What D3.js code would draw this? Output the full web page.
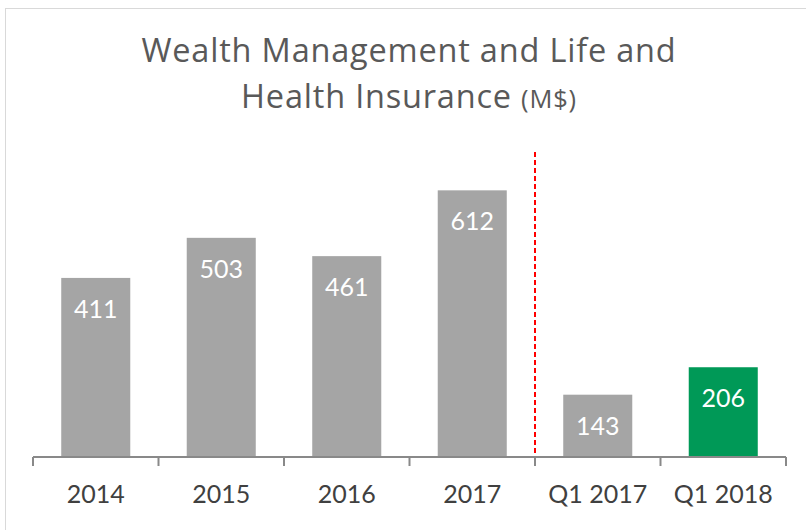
<!DOCTYPE html>
<html>
<head>
<meta charset="utf-8">
<script src="https://cdn.jsdelivr.net/npm/d3@7"></script>
<style>
  html, body { margin: 0; padding: 0; background: #fff; }
  svg { display: block; }
  text { font-family: Lato, "Open Sans", sans-serif; }
  .title text { font-family: "Open Sans", Lato, sans-serif; letter-spacing: 0.8px; }
</style>
</head>
<body>
<div id="chart"></div>
<script>
// Wealth Management and Life and Health Insurance (M$) - bar chart

// Data
const categories = ['2014', '2015', '2016', '2017', 'Q1 2017', 'Q1 2018'];
const values = [411, 503, 461, 612, 143, 206];
const barColors = ['#a5a5a5', '#a5a5a5', '#a5a5a5', '#a5a5a5', '#a5a5a5', '#009957'];
const titleLines = ['Wealth Management and Life and', 'Health Insurance'];
const titleUnit = '(M$)';
const yMax = 700;

const width = 806;
const height = 530;
const plot = { left: 33, right: 786, top: 152, bottom: 457 };

const svg = d3.select('#chart')
  .append('svg')
  .attr('width', width)
  .attr('height', height);

// chart frame
svg.append('rect')
  .attr('x', 5.5)
  .attr('y', 8.5)
  .attr('width', 900)
  .attr('height', 600)
  .attr('fill', 'none')
  .attr('stroke', '#d9d9d9')
  .attr('stroke-width', 1);

// Title
const title = svg.append('g')
  .attr('class', 'title')
  .attr('fill', '#595959')
  .attr('text-anchor', 'middle');
title.append('text')
  .attr('x', 409)
  .attr('y', 62)
  .attr('font-size', 32.5)
  .text(titleLines[0]);
const t2 = title.append('text')
  .attr('x', 409)
  .attr('y', 108)
  .attr('font-size', 32.5);
t2.append('tspan').text(titleLines[1] + ' ');
t2.append('tspan').attr('font-size', 25.5).text(titleUnit);

// Scales
const x = d3.scaleBand()
  .domain(categories)
  .range([plot.left, plot.right])
  .paddingInner(0.45)
  .paddingOuter(0.225);

const y = d3.scaleLinear()
  .domain([0, yMax])
  .range([plot.bottom, plot.top]);

// Bars
svg.append('g')
  .selectAll('rect')
  .data(values)
  .enter().append('rect')
  .attr('x', (d, i) => x(categories[i]))
  .attr('y', d => y(d))
  .attr('width', x.bandwidth())
  .attr('height', d => y(0) - y(d))
  .attr('fill', (d, i) => barColors[i]);

// Data labels
svg.append('g')
  .selectAll('text')
  .data(values)
  .enter().append('text')
  .attr('x', (d, i) => x(categories[i]) + x.bandwidth() / 2)
  .attr('y', d => y(d) + 40)
  .attr('text-anchor', 'middle')
  .attr('fill', '#ffffff')
  .attr('font-size', 25)
  .text(d => d);

// Separator between years and quarters
const sepX = x(categories[4]) - (x.step() - x.bandwidth()) / 2;
svg.append('line')
  .attr('x1', sepX)
  .attr('x2', sepX)
  .attr('y1', y(yMax))
  .attr('y2', y(0))
  .attr('stroke', '#ff0000')
  .attr('stroke-width', 2)
  .attr('stroke-dasharray', '5,3');

// X axis with ticks between categories
const step = x.step();
const tickPos = d3.range(categories.length + 1).map(i => plot.left + i * step);

const axis = svg.append('g');
axis.append('line')
  .attr('x1', plot.left)
  .attr('x2', plot.right)
  .attr('y1', y(0))
  .attr('y2', y(0))
  .attr('stroke', '#898989')
  .attr('stroke-width', 2);

axis.selectAll('line.tick')
  .data(tickPos)
  .enter().append('line')
  .attr('class', 'tick')
  .attr('x1', d => d)
  .attr('x2', d => d)
  .attr('y1', y(0))
  .attr('y2', y(0) + 9)
  .attr('stroke', '#898989')
  .attr('stroke-width', 2);

axis.selectAll('text')
  .data(categories)
  .enter().append('text')
  .attr('x', d => x(d) + x.bandwidth() / 2)
  .attr('y', 503)
  .attr('text-anchor', 'middle')
  .attr('fill', '#404040')
  .attr('font-size', 25)
  .text(d => d);
</script>
</body>
</html>
